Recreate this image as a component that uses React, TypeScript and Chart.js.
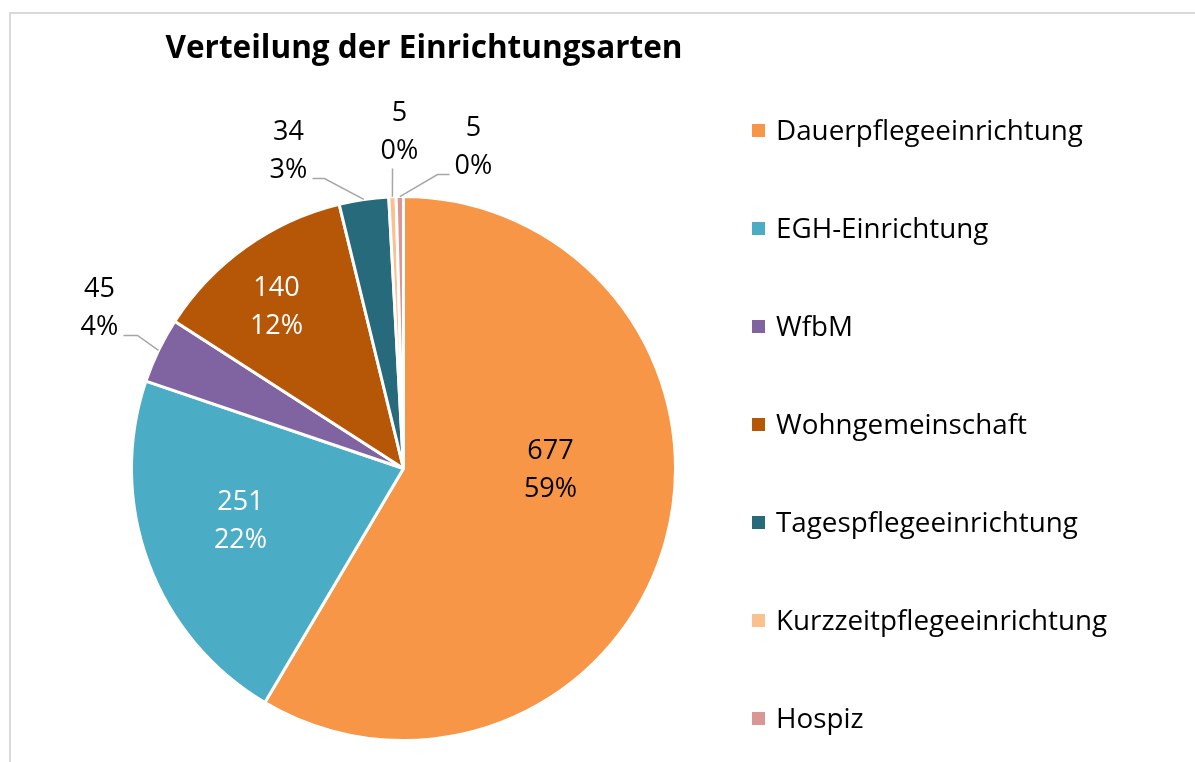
import React, { useEffect, useRef } from "react";
import { Chart, registerables } from "chart.js";

Chart.register(...registerables);

const TITLE = "Verteilung der Einrichtungsarten";
const CATEGORIES = [
  "Dauerpflegeeinrichtung",
  "EGH-Einrichtung",
  "WfbM",
  "Wohngemeinschaft",
  "Tagespflegeeinrichtung",
  "Kurzzeitpflegeeinrichtung",
  "Hospiz",
];
const VALUES = [677, 251, 45, 140, 34, 5, 5];
const COLORS = ["#F79646", "#4BACC6", "#8064A2", "#B65708", "#276A7C", "#FAC090", "#D99694"];
const LABEL_COLORS = ["#000000", "#FFFFFF", "#000000", "#FFFFFF", "#000000", "#000000", "#000000"];

// label placement: centre-x and first baseline, relative to pie centre
const LABEL_OFFSETS: [number, number][] = [
  [147, -10],
  [-163, 41],
  [-304, -172],
  [-127, -173],
  [-115, -329],
  [-4, -348],
  [70, -333],
];
// leader lines (start point, optional elbow) relative to pie centre; null = none
const LEADERS: ([number, number][] | null)[] = [
  null,
  null,
  [[-280, -133], [-266, -133]],
  null,
  [[-91, -290], [-79, -290]],
  [[-11, -300]],
  [[46, -294], [34, -294]],
];

const FONT = "'Open Sans', 'Noto Sans', sans-serif";

const decorPlugin = {
  id: "decor",
  afterDraw(chart: any) {
    const ctx = chart.ctx as CanvasRenderingContext2D;
    const meta = chart.getDatasetMeta(0);
    const data = chart.data.datasets[0].data as number[];
    const total = data.reduce((a, b) => a + b, 0);
    ctx.save();

    // frame
    ctx.strokeStyle = "#D9D9D9";
    ctx.lineWidth = 2;
    ctx.beginPath();
    ctx.moveTo(10, 770);
    ctx.lineTo(10, 13);
    ctx.lineTo(1200, 13);
    ctx.stroke();

    // title
    ctx.fillStyle = "#000";
    ctx.font = `bold 31.5px ${FONT}`;
    ctx.textAlign = "center";
    ctx.textBaseline = "alphabetic";
    ctx.fillText(TITLE, 424, 58);

    // labels + leaders
    meta.data.forEach((arc: any, i: number) => {
      const p = arc.getProps(["x", "y", "startAngle", "endAngle", "outerRadius"], true);
      const cx = p.x, cy = p.y;
      const leader = LEADERS[i];
      if (leader) {
        const mid = (p.startAngle + p.endAngle) / 2;
        const ex = cx + Math.cos(mid) * p.outerRadius;
        const ey = cy + Math.sin(mid) * p.outerRadius;
        ctx.strokeStyle = "#A6A6A6";
        ctx.lineWidth = 1.5;
        ctx.beginPath();
        leader.forEach(([dx, dy], k) => {
          if (k === 0) ctx.moveTo(cx + dx, cy + dy);
          else ctx.lineTo(cx + dx, cy + dy);
        });
        ctx.lineTo(ex, ey);
        ctx.stroke();
      }
      const [lx, ly] = LABEL_OFFSETS[i];
      const v = data[i];
      const pct = Math.round((v / total) * 100) + "%";
      ctx.fillStyle = LABEL_COLORS[i];
      ctx.font = `27px ${FONT}`;
      ctx.textAlign = "center";
      ctx.fillText(String(v), cx + lx, cy + ly);
      ctx.fillText(pct, cx + lx, cy + ly + 38);
    });

    // legend
    const colors = chart.data.datasets[0].backgroundColor as string[];
    (chart.data.labels as string[]).forEach((lab, i) => {
      const base = 140 + i * 98;
      ctx.fillStyle = colors[i];
      ctx.fillRect(752, base - 16, 13, 13);
      ctx.fillStyle = "#000";
      ctx.font = `27.8px ${FONT}`;
      ctx.textAlign = "left";
      ctx.fillText(lab, 776, base);
    });
    ctx.restore();
  },
};

export default function App() {
  const ref = useRef<HTMLCanvasElement | null>(null);
  useEffect(() => {
    if (!ref.current) return;
    const chart = new Chart(ref.current, {
      type: "pie",
      data: {
        labels: CATEGORIES,
        datasets: [
          {
            data: VALUES,
            backgroundColor: COLORS,
            borderColor: "#FFFFFF",
            borderWidth: 3,
          },
        ],
      },
      options: {
        responsive: false,
        animation: false,
        devicePixelRatio: 1,
        layout: { padding: { left: 130, top: 195, right: 518, bottom: 20 } },
        plugins: {
          legend: { display: false },
          tooltip: { enabled: false },
          title: { display: false },
        },
      },
      plugins: [decorPlugin],
    });
    return () => chart.destroy();
  }, []);
  return (
    <div style={{ position: "fixed", left: 0, top: 0, width: 1195, height: 762, background: "#fff" }}>
      <canvas ref={ref} width={1195} height={762} style={{ display: "block" }} />
    </div>
  );
}
